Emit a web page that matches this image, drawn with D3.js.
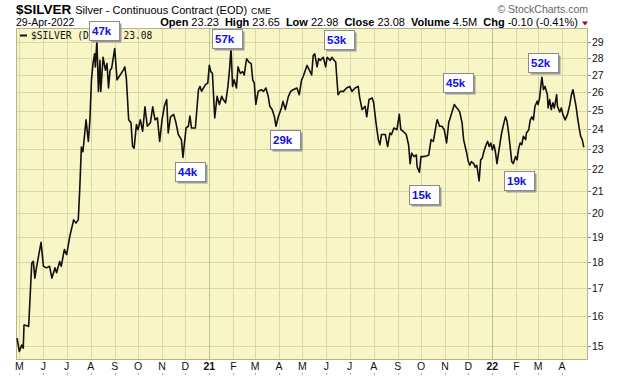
<!DOCTYPE html>
<html>
<head>
<meta charset="utf-8">
<script src="https://cdn.jsdelivr.net/npm/d3@7"></script>
<style>
  body { margin: 0; background: #fff; }
  svg { display: block; font-family: "Liberation Sans", Arial, sans-serif; }
</style>
</head>
<body>
<div id="chart"></div>
<script>
// daily closes (approx every 2-3 days)
var dates = [
  "2020-04-28","2020-05-01","2020-05-04","2020-05-06","2020-05-07","2020-05-11","2020-05-13","2020-05-17","2020-05-19","2020-05-21",
  "2020-05-23","2020-05-29","2020-06-01","2020-06-05","2020-06-09","2020-06-12","2020-06-16","2020-06-18","2020-06-22","2020-06-24",
  "2020-06-28","2020-07-01","2020-07-05","2020-07-10","2020-07-13","2020-07-16","2020-07-18","2020-07-20","2020-07-22","2020-07-26",
  "2020-07-29","2020-07-31","2020-08-02","2020-08-04","2020-08-06","2020-08-07","2020-08-09","2020-08-11","2020-08-13","2020-08-14",
  "2020-08-17","2020-08-20","2020-08-22","2020-08-24","2020-08-26","2020-08-28","2020-09-01","2020-09-04","2020-09-08","2020-09-12",
  "2020-09-14","2020-09-16","2020-09-19","2020-09-22","2020-09-24","2020-09-26","2020-09-29","2020-10-01","2020-10-04","2020-10-07",
  "2020-10-10","2020-10-13","2020-10-17","2020-10-20","2020-10-23","2020-10-26","2020-10-29",
  "2020-11-01","2020-11-04","2020-11-07","2020-11-09","2020-11-12","2020-11-16","2020-11-19","2020-11-22","2020-11-26","2020-11-28",
  "2020-12-02","2020-12-05","2020-12-07","2020-12-09","2020-12-14","2020-12-18","2020-12-20","2020-12-22","2020-12-27","2020-12-30",
  "2021-01-01","2021-01-03","2021-01-05","2021-01-08","2021-01-11","2021-01-14","2021-01-17","2021-01-19","2021-01-22","2021-01-25",
  "2021-01-27","2021-01-29","2021-01-31","2021-02-02","2021-02-05","2021-02-07","2021-02-10","2021-02-13","2021-02-15","2021-02-18",
  "2021-02-21","2021-02-24","2021-02-26","2021-02-28","2021-03-02","2021-03-05","2021-03-09","2021-03-12","2021-03-15","2021-03-18",
  "2021-03-20","2021-03-23","2021-03-26","2021-03-28","2021-03-31","2021-04-04","2021-04-06","2021-04-09","2021-04-13","2021-04-16",
  "2021-04-19","2021-04-24","2021-04-27","2021-04-30",
  "2021-05-02","2021-05-07","2021-05-10","2021-05-13","2021-05-15","2021-05-17","2021-05-20","2021-05-22","2021-05-24","2021-05-28",
  "2021-05-31","2021-06-02","2021-06-06","2021-06-08","2021-06-11","2021-06-13","2021-06-16","2021-06-19","2021-06-23","2021-06-27",
  "2021-07-01","2021-07-04","2021-07-08","2021-07-12","2021-07-14","2021-07-17","2021-07-21","2021-07-23","2021-07-26","2021-07-30",
  "2021-08-01","2021-08-04","2021-08-07","2021-08-09","2021-08-11","2021-08-16","2021-08-19","2021-08-22","2021-08-24","2021-08-27",
  "2021-08-31","2021-09-03","2021-09-05","2021-09-08","2021-09-12","2021-09-15","2021-09-17","2021-09-19","2021-09-22","2021-09-25",
  "2021-09-26","2021-09-29","2021-10-01","2021-10-04","2021-10-08","2021-10-11","2021-10-14","2021-10-17","2021-10-21","2021-10-22",
  "2021-10-25","2021-10-28","2021-10-31","2021-11-03","2021-11-06",
  "2021-11-07","2021-11-10","2021-11-13","2021-11-15","2021-11-18","2021-11-20","2021-11-23","2021-11-25","2021-11-27","2021-11-29",
  "2021-12-01","2021-12-03","2021-12-05","2021-12-08","2021-12-10","2021-12-12","2021-12-14","2021-12-15","2021-12-17","2021-12-19",
  "2021-12-21","2021-12-24","2021-12-26","2021-12-28","2021-12-30","2022-01-01","2022-01-03","2022-01-05","2022-01-07","2022-01-09",
  "2022-01-11","2022-01-13","2022-01-16","2022-01-18","2022-01-20","2022-01-22","2022-01-24","2022-01-26","2022-01-28","2022-01-31",
  "2022-02-02","2022-02-04","2022-02-06","2022-02-08","2022-02-10","2022-02-13","2022-02-14","2022-02-17","2022-02-19","2022-02-21",
  "2022-02-23","2022-02-25","2022-02-28","2022-03-01","2022-03-03","2022-03-05","2022-03-06","2022-03-08","2022-03-10","2022-03-13",
  "2022-03-14","2022-03-16","2022-03-18","2022-03-20","2022-03-22","2022-03-25","2022-03-26","2022-03-29","2022-03-31","2022-04-02",
  "2022-04-05","2022-04-08","2022-04-11","2022-04-13","2022-04-15","2022-04-17","2022-04-19","2022-04-21","2022-04-23","2022-04-25",
  "2022-04-27","2022-04-29"
];
var prices = [
  15.26,14.82,15.03,14.93,15.70,15.67,15.65,17.96,18.02,17.38,
  17.77,18.78,17.83,17.77,17.83,17.38,17.77,17.58,18.02,17.83,
  18.49,18.29,19.02,19.72,19.58,19.72,21.17,23.10,22.86,24.50,
  23.38,24.50,26.72,27.68,28.27,27.47,29.10,26.06,27.87,26.06,
  28.06,27.29,27.68,26.25,27.29,27.39,28.59,26.72,27.00,27.29,
  27.48,26.80,24.50,24.34,23.12,23.04,24.25,23.98,24.50,23.90,
  25.20,24.16,24.34,25.20,24.50,24.60,23.38,
  24.50,25.23,25.60,23.81,24.66,24.79,24.34,23.73,23.47,22.58,
  24.07,24.16,24.70,24.07,24.07,26.15,26.34,26.06,26.44,26.53,
  27.57,27.20,27.10,24.60,25.78,25.33,25.78,25.60,25.42,26.34,
  27.29,28.59,26.34,26.72,26.25,27.48,27.10,27.20,27.00,27.97,
  27.77,27.68,26.72,26.53,25.33,26.06,26.15,26.06,26.25,25.78,
  25.23,25.05,24.66,24.16,24.66,25.14,25.50,25.05,25.78,26.06,
  26.15,26.25,25.87,26.72,
  26.90,27.57,27.29,27.00,28.16,28.27,27.48,27.98,27.87,28.06,
  27.48,28.06,27.87,28.06,27.87,27.77,25.87,26.06,26.06,26.25,
  26.34,26.06,26.25,26.34,25.69,25.05,25.23,24.66,25.60,25.69,
  25.42,24.34,23.47,23.21,23.73,23.73,23.12,23.81,23.73,24.07,
  23.98,24.79,23.98,23.90,23.73,23.21,22.28,22.79,22.62,22.70,
  22.13,21.87,22.62,22.62,22.65,22.70,23.47,23.38,24.34,24.50,
  24.16,24.16,23.98,23.30,24.42,
  24.50,24.92,25.33,25.21,25.05,24.92,24.34,23.47,23.12,22.79,
  22.38,22.20,22.38,22.28,22.11,22.20,21.70,21.46,22.46,22.54,
  22.86,23.21,23.38,23.12,23.30,22.95,23.21,22.86,22.28,22.79,
  23.30,23.81,24.34,24.66,24.42,23.81,23.12,22.38,22.28,22.62,
  22.46,23.04,23.30,23.21,23.64,23.47,23.81,23.98,24.50,24.66,
  24.50,25.23,25.51,25.33,25.69,26.53,26.87,26.15,26.34,25.87,
  25.14,25.60,25.05,25.42,25.14,25.87,25.23,24.92,25.14,24.79,
  24.50,24.79,25.33,25.87,26.15,25.69,25.23,24.60,24.07,23.64,
  23.47,23.08
];

// y axis labels (right side)
var priceTicks = [15, 16, 17, 18, 19, 20, 21, 22, 23, 24, 25, 26, 27, 28, 29];

// annotation boxes (text, date under the box, price level of the box)
var annoText  = ["47k", "44k", "57k", "29k", "53k", "15k", "45k", "19k", "52k"];
var annoDate  = ["2020-08-18", "2020-12-07", "2021-01-24", "2021-04-08", "2021-06-17", "2021-10-05", "2021-11-18", "2022-02-04", "2022-03-08"];
var annoPrice = [29.77, 21.88, 29.25, 23.5, 29.17, 20.85, 26.59, 21.49, 27.74];

// header texts
var symbol = "$SILVER";
var longName = "Silver - Continuous Contract (EOD)";
var exchange = "CME";
var lastDate = "29-Apr-2022";
var statLabels = ["Open", "High", "Low", "Close", "Volume", "Chg"];
var statValues = ["23.23", "23.65", "22.98", "23.08", "4.5M", "-0.10 (-0.41%)"];
var legendText = "$SILVER (Daily) 23.08";

var parse = d3.utcParse("%Y-%m-%d");
var data = dates.map(function (d, i) { return { date: parse(d), value: prices[i] }; });

var W = 620, H = 376;
var plot = { left: 16, right: 588, top: 28, bottom: 360 };

var svg = d3.select("#chart").append("svg")
  .attr("width", W)
  .attr("height", H);

var x = d3.scaleUtc()
  .domain([new Date(Date.UTC(2020, 3, 26, 16)), new Date(Date.UTC(2022, 4, 4, 10))])
  .range([plot.left, plot.right]);

var y = d3.scaleLog()
  .domain([14.55, 29.9])
  .range([plot.bottom, plot.top]);

// plot background
svg.append("rect")
  .attr("x", plot.left)
  .attr("y", plot.top)
  .attr("width", plot.right - plot.left)
  .attr("height", plot.bottom - plot.top)
  .attr("fill", "#f8f6c6");

// horizontal grid
svg.append("g")
  .selectAll("line")
  .data(priceTicks)
  .enter()
  .append("line")
  .attr("x1", plot.left)
  .attr("x2", plot.right)
  .attr("y1", function (d) { return Math.round(y(d)) + 0.5; })
  .attr("y2", function (d) { return Math.round(y(d)) + 0.5; })
  .attr("stroke", "#dad9a4")
  .attr("stroke-width", 1);

// vertical month grid
var months = d3.utcMonth.range(new Date(Date.UTC(2020, 4, 1)), new Date(Date.UTC(2022, 4, 1)));
svg.append("g")
  .selectAll("line")
  .data(months)
  .enter()
  .append("line")
  .attr("x1", function (d) { return Math.round(x(d)) + 0.5; })
  .attr("x2", function (d) { return Math.round(x(d)) + 0.5; })
  .attr("y1", plot.top)
  .attr("y2", plot.bottom)
  .attr("stroke", function (d) { return d.getUTCMonth() === 0 ? "#bcc48e" : "#dad9a4"; })
  .attr("stroke-width", 1);

// plot border
svg.append("rect")
  .attr("x", plot.left + 0.5)
  .attr("y", plot.top + 0.5)
  .attr("width", plot.right - plot.left - 1)
  .attr("height", plot.bottom - plot.top - 1)
  .attr("fill", "none")
  .attr("stroke", "#b4b48e");

// right axis labels + ticks
var yAxis = svg.append("g");
yAxis.selectAll("line")
  .data(priceTicks)
  .enter()
  .append("line")
  .attr("x1", plot.right)
  .attr("x2", plot.right + 3)
  .attr("y1", function (d) { return Math.round(y(d)) + 0.5; })
  .attr("y2", function (d) { return Math.round(y(d)) + 0.5; })
  .attr("stroke", "#888");
yAxis.selectAll("text")
  .data(priceTicks)
  .enter()
  .append("text")
  .attr("x", plot.right + 4)
  .attr("y", function (d) { return y(d); })
  .attr("dy", "0.36em")
  .style("font-size", "10.5px")
  .style("fill", "#111")
  .text(function (d) { return d; });

// bottom month labels
var xAxis = svg.append("g");
xAxis.selectAll("text")
  .data(months)
  .enter()
  .append("text")
  .attr("x", function (d) { return x(d); })
  .attr("y", 370)
  .attr("text-anchor", "middle")
  .style("font-size", "10.5px")
  .style("font-weight", function (d) { return d.getUTCMonth() === 0 ? "bold" : "normal"; })
  .style("fill", "#111")
  .text(function (d) {
    return d.getUTCMonth() === 0 ? d3.utcFormat("%y")(d) : d3.utcFormat("%b")(d).charAt(0);
  });
xAxis.selectAll("line")
  .data(months)
  .enter()
  .append("line")
  .attr("x1", function (d) { return Math.round(x(d)) + 0.5; })
  .attr("x2", function (d) { return Math.round(x(d)) + 0.5; })
  .attr("y1", 373)
  .attr("y2", 375)
  .attr("stroke", "#aaa");

// legend inside the plot
svg.append("line")
  .attr("x1", 20).attr("x2", 27)
  .attr("y1", 35.5).attr("y2", 35.5)
  .attr("stroke", "#111")
  .attr("stroke-width", 2);
svg.append("text")
  .attr("x", 31)
  .attr("y", 39)
  .style("font-family", "'DejaVu Sans Mono', monospace")
  .style("font-size", "9.6px")
  .style("fill", "#111")
  .text(legendText);

// price line
var line = d3.line()
  .x(function (d) { return x(d.date); })
  .y(function (d) { return y(d.value); });

svg.append("path")
  .datum(data)
  .attr("d", line)
  .attr("fill", "none")
  .attr("stroke", "#111")
  .attr("stroke-width", 1.6)
  .attr("stroke-linejoin", "round");

// annotation boxes
var boxW = 30, boxH = 19;
var annos = svg.append("g")
  .selectAll("g")
  .data(annoText)
  .enter()
  .append("g")
  .attr("transform", function (d, i) {
    return "translate(" + Math.round(x(parse(annoDate[i])) - boxW / 2) + "," + Math.round(y(annoPrice[i]) - boxH / 2) + ")";
  });
annos.append("rect")
  .attr("x", 2.5).attr("y", 2.5)
  .attr("width", boxW).attr("height", boxH)
  .attr("fill", "#9a9a9a");
annos.append("rect")
  .attr("x", 0.5).attr("y", 0.5)
  .attr("width", boxW).attr("height", boxH)
  .attr("fill", "#fff")
  .attr("stroke", "#8c8c8c");
annos.append("text")
  .attr("x", 3)
  .attr("y", 13.5)
  .style("font-size", "11.5px")
  .style("font-weight", "bold")
  .style("fill", "#1010e0")
  .text(function (d) { return d; });

// header
var head = svg.append("text")
  .attr("x", 16)
  .attr("y", 14)
  .style("fill", "#000");
head.append("tspan")
  .style("font-size", "13.5px")
  .style("font-weight", "bold")
  .text(symbol);
head.append("tspan")
  .attr("dx", 4)
  .style("font-size", "11px")
  .text(longName);
head.append("tspan")
  .attr("dx", 4)
  .style("font-size", "9px")
  .text(exchange);

svg.append("text")
  .attr("x", 16)
  .attr("y", 26)
  .style("font-size", "10.5px")
  .style("fill", "#000")
  .text(lastDate);

var stats = svg.append("text")
  .attr("x", 578)
  .attr("y", 26)
  .attr("text-anchor", "end")
  .style("font-size", "11px")
  .style("fill", "#000");
statLabels.forEach(function (lab, i) {
  stats.append("tspan")
    .attr("dx", i === 0 ? 0 : 6)
    .style("font-weight", "bold")
    .text(lab);
  stats.append("tspan")
    .attr("dx", 3)
    .text(statValues[i]);
});

// red down triangle after change
svg.append("path")
  .attr("d", "M582,21.5 L588,21.5 L585,25.5 Z")
  .attr("fill", "#8b1030");

svg.append("text")
  .attr("x", 588)
  .attr("y", 13)
  .attr("text-anchor", "end")
  .style("font-size", "10.5px")
  .style("fill", "#666")
  .text("\u00a9 StockCharts.com");
</script>
</body>
</html>
